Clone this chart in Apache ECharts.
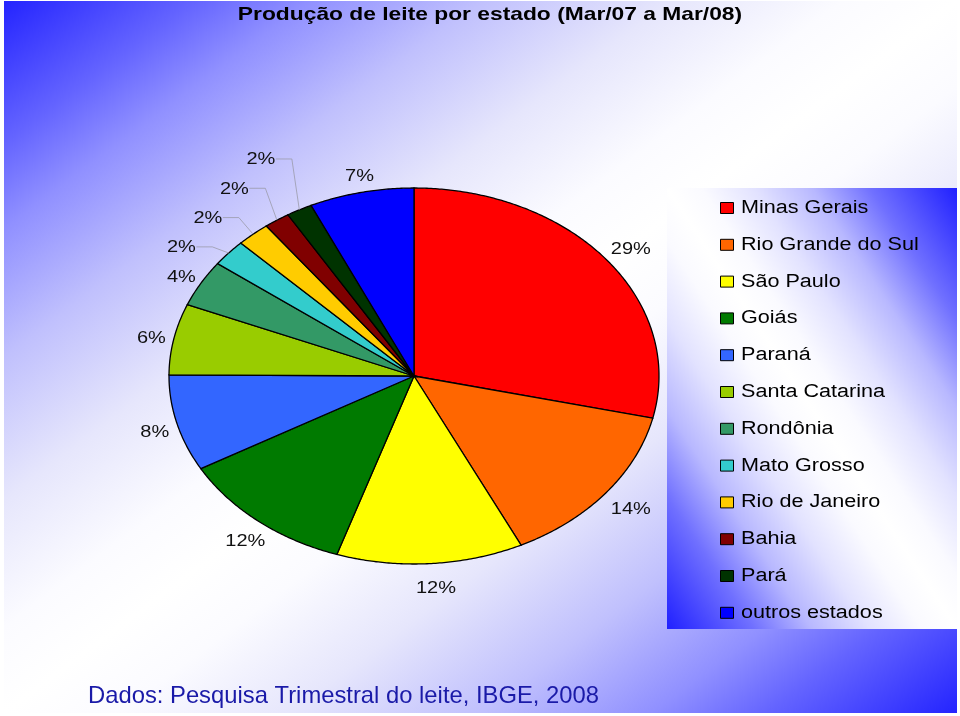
<!DOCTYPE html>
<html>
<head>
<meta charset="utf-8">
<script src="https://cdn.jsdelivr.net/npm/echarts@6/dist/echarts.min.js"></script>
<style>
html,body{margin:0;padding:0;background:#ffffff;}
#chart{width:960px;height:716px;}
</style>
</head>
<body>
<div id="chart"></div>
<script>
// ---- data ----
const categories = ['Minas Gerais', 'Rio Grande do Sul', 'São Paulo', 'Goiás', 'Paraná', 'Santa Catarina',
  'Rondônia', 'Mato Grosso', 'Rio de Janeiro', 'Bahia', 'Pará', 'outros estados'];
const shares = [28.6, 14.2, 12.3, 11.7, 8.3, 6.1, 4.0, 2.3, 2.2, 1.7, 1.7, 6.9];
const colors = ['#FF0000', '#FF6600', '#FFFF00', '#007A00', '#3366FF', '#99CC00',
  '#339966', '#33CCCC', '#FFCC00', '#800000', '#003300', '#0000FF'];
const titleText = 'Produção de leite por estado (Mar/07 a Mar/08)';
const sourceText = 'Dados: Pesquisa Trimestral do leite, IBGE, 2008';

// ---- layout ----
const FONT = "'Liberation Sans', Arial, sans-serif";
const CX = 414, CY = 376, RX = 245, RY = 188;
const total = shares.reduce((a, b) => a + b, 0);
const firstSmall = shares.findIndex(v => v < 3);

function pt(a, k) { return [CX + RX * k * Math.sin(a), CY - RY * k * Math.cos(a)]; }
function angles(i) {
  let s = 0; for (let j = 0; j < i; j++) s += shares[j];
  return [s / total * 2 * Math.PI, (s + shares[i]) / total * 2 * Math.PI];
}
function naturalLabel(i) {
  const [a0, a1] = angles(i); const p = pt((a0 + a1) / 2, 1.11);
  return [p[0] + 4, p[1] + 4];
}

function renderItem(params, api) {
  const i = params.dataIndex;
  const v = api.value(0);
  let s = 0; for (let j = 0; j < i; j++) s += shares[j];
  const a0 = s / total * 2 * Math.PI, a1 = (s + v) / total * 2 * Math.PI;
  const n = Math.max(2, Math.ceil((a1 - a0) / (Math.PI / 360)));
  const pts = [[CX, CY]];
  for (let k = 0; k <= n; k++) pts.push(pt(a0 + (a1 - a0) * k / n, 1));
  const children = [{
    type: 'polygon', shape: { points: pts },
    style: { fill: colors[i], stroke: '#000', lineWidth: 1.3 }
  }];
  const mid = (a0 + a1) / 2;
  let lp;
  if (v < 3) {
    const base = naturalLabel(firstSmall - 1);
    const sIdx = i - firstSmall;
    lp = [base[0] + sIdx * 26.5, base[1] - (sIdx + 1) * 29.3];
    const edge = pt(mid, 1);
    const rx = lp[0] + 15;
    children.push({
      type: 'polyline', shape: { points: [[rx, lp[1] - 1], [rx + 16, lp[1] - 1], edge] },
      style: { stroke: '#9a9aaa', lineWidth: 0.8, fill: null }, z2: 5
    });
  } else {
    lp = naturalLabel(i);
  }
  children.push({
    type: 'text', x: lp[0], y: lp[1], scaleX: 1.25, z2: 10,
    style: { x: 0, y: 0, text: Math.round(v) + '%', fill: '#111', fontSize: 16, fontFamily: FONT,
      align: 'center', verticalAlign: 'middle' }
  });
  return { type: 'group', children };
}

// ---- background + legend graphics ----
function diagGrad(x0, y0, w, h, stops, anti) {
  const k = 2 * w * h / (w * w + h * h);
  if (!anti) return new echarts.graphic.LinearGradient(x0, y0, x0 + k * h, y0 + k * w, stops, true);
  return new echarts.graphic.LinearGradient(x0 + w, y0, x0 + w - k * h, y0 + k * w, stops, true);
}
function symStops(list) {
  const out = list.map(([o, c]) => ({ offset: o, color: c }));
  for (let i = list.length - 2; i >= 0; i--) out.push({ offset: 1 - list[i][0], color: list[i][1] });
  return out;
}
const bgStops = symStops([[0, '#2424ff'], [0.1, '#6464ff'], [0.16, '#9090ff'], [0.25, '#c0c0fd'],
  [0.35, '#e6e6fc'], [0.44, '#fbfbff'], [0.5, '#ffffff']]);
const lgStops = symStops([[0, '#2020ff'], [0.15, '#7070ff'], [0.25, '#b8b8ff'], [0.35, '#e2e2ff'],
  [0.44, '#fafaff'], [0.5, '#ffffff']]);

const BG = { x: 4, y: 1, w: 953, h: 712 };
const LG = { x: 667, y: 188, w: 290, h: 441 };
const graphics = [
  { type: 'rect', z: -10, shape: { x: BG.x, y: BG.y, width: BG.w, height: BG.h },
    style: { fill: diagGrad(BG.x, BG.y, BG.w, BG.h, bgStops, false) }, silent: true },
  { type: 'rect', z: -5, shape: { x: LG.x, y: LG.y, width: LG.w, height: LG.h },
    style: { fill: diagGrad(LG.x, LG.y, LG.w, LG.h, lgStops, true) }, silent: true },
  { type: 'text', z: 50, x: 490, y: 15, scaleX: 1.2,
    style: { x: 0, y: 0, text: titleText, fill: '#000', fontSize: 19, fontWeight: 'bold', fontFamily: FONT,
      align: 'center', verticalAlign: 'middle' } },
  { type: 'text', z: 50, x: 88, y: 696,
    style: { x: 0, y: 0, text: sourceText, fill: '#1a1aa8', fontSize: 23.8, fontFamily: FONT,
      align: 'left', verticalAlign: 'middle' } }
];
categories.forEach((name, i) => {
  const y = 208 + i * 36.8;
  graphics.push({ type: 'rect', z: 50, shape: { x: 720.5, y: y - 5.5, width: 13, height: 11 },
    style: { fill: colors[i], stroke: '#000', lineWidth: 1 } });
  graphics.push({ type: 'text', z: 50, x: 741, y: y, scaleX: 1.2,
    style: { x: 0, y: 0, text: name, fill: '#000', fontSize: 18, fontFamily: FONT,
      align: 'left', verticalAlign: 'middle' } });
});

const chart = echarts.init(document.getElementById('chart'), null, { renderer: 'canvas' });
chart.setOption({
  animation: false,
  backgroundColor: '#ffffff',
  graphic: graphics,
  series: [{
    type: 'custom', coordinateSystem: 'none', z: 10,
    data: shares.map((v, i) => ({ name: categories[i], value: [v] })),
    renderItem: renderItem
  }]
});
</script>
</body>
</html>
